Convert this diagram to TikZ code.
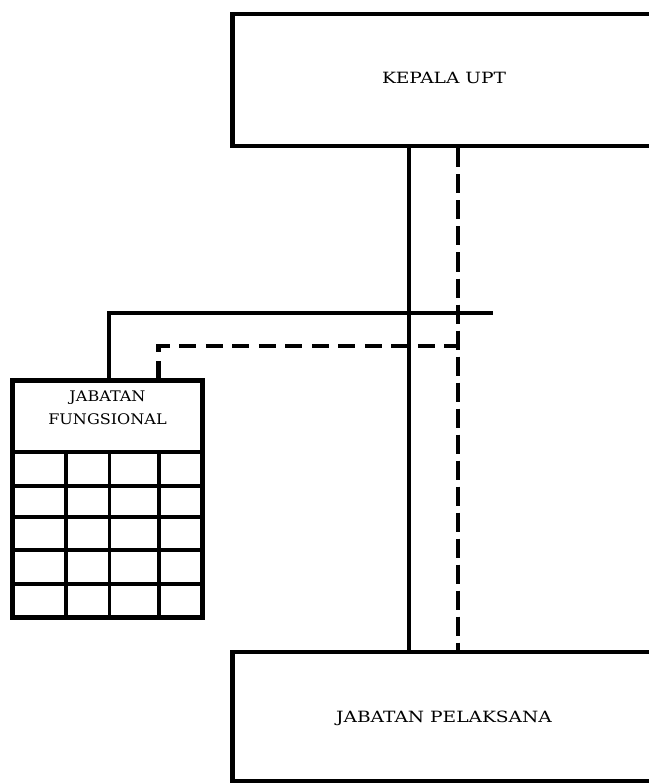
\documentclass[tikz,border=0pt]{standalone}
\usepackage{fontspec}
\newfontfamily\lblfont[FakeStretch=1.2]{DejaVu Serif}
\newfontfamily\jffont[FakeStretch=1.1]{DejaVu Serif}
\begin{document}
\begin{tikzpicture}[x=1pt,y=-1pt,
  box/.style={draw,line width=4.5pt,rectangle,inner sep=0pt},
  lbl/.style={anchor=base,inner sep=0pt,font=\lblfont\fontsize{15.5}{18}\selectfont},
  jflbl/.style={anchor=base,inner sep=0pt,font=\jffont\fontsize{14.6}{18}\selectfont},
  solidline/.style={line width=4.5pt},
  gridline/.style={line width=3.6pt},
  dashv/.style={line width=4.5pt,dash pattern=on 19pt off 7pt},
  dashh/.style={line width=4.5pt,dash pattern=on 17pt off 9.5pt}]
\useasboundingbox (0,0) rectangle (648,783);
% boxes
\node[box,minimum width=430pt,minimum height=132pt] (kepala) at (447.5,80.25) {};
\node[box,minimum width=430pt,minimum height=129pt] (pelaksana) at (447.5,716.5) {};
\node[box,minimum width=190pt,minimum height=237pt] (jf) at (107.5,499) {};
% labels
\node[lbl] (tk) at (444,84) {KEPALA UPT};
\node[lbl] (tp) at (444,722) {JABATAN PELAKSANA};
\node[jflbl] (tj1) at (107.5,401) {JABATAN};
\node[jflbl] (tj2) at (107.5,424) {FUNGSIONAL};
% grid inside jabatan fungsional
\draw[gridline] (jf.west |- 0,452) -- (jf.east |- 0,452);
\foreach \yy in {486,517,550,583.7}{
  \draw[gridline] (jf.west |- 0,\yy) -- (jf.east |- 0,\yy);
}
\foreach \xx in {66,109.3,159}{
  \draw[gridline] (\xx,452) -- (jf.south -| \xx,0);
}
% connectors
\coordinate (hend) at (493,313);
\coordinate (dcorner) at (458,346);
\draw[solidline] (kepala.south -| 409,0) -- (pelaksana.north -| 409,0);
\draw[dashv] (kepala.south -| 458,0) -- (pelaksana.north -| 458,0);
\draw[solidline] (jf.north -| 109,0) -- (109,313) -- (hend);
\draw[dashh] (jf.north -| 158.5,0) -- (158.5,346) -- (dcorner);
\end{tikzpicture}
\end{document}
